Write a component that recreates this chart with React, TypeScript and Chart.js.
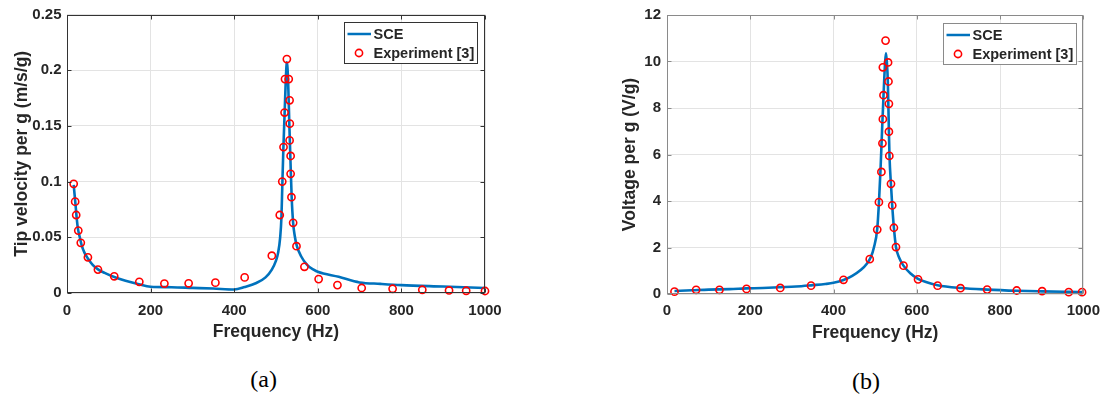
import React, { useEffect, useRef } from 'react';
import { Chart, registerables } from 'chart.js';

Chart.register(...registerables);

// ---------- data ----------
const xTickValues = [0, 200, 400, 600, 800, 1000];
const xTickLabels = ['0', '200', '400', '600', '800', '1000'];

const yTickValuesA = [0, 0.05, 0.1, 0.15, 0.2, 0.25];
const yTickLabelsA = ['0', '0.05', '0.1', '0.15', '0.2', '0.25'];
const yTickValuesB = [0, 2, 4, 6, 8, 10, 12];
const yTickLabelsB = ['0', '2', '4', '6', '8', '10', '12'];

const seriesNames = ['SCE', 'Experiment [3]'];
const xTitle = 'Frequency (Hz)';
const yTitleA = 'Tip velocity per g (m/s/g)';
const yTitleB = 'Voltage per g (V/g)';
const captionA = '(a)';
const captionB = '(b)';

// (a) tip velocity
const sceFreqA = [16, 18, 20, 23, 26, 30, 35, 42, 50, 62, 75, 90, 113, 140, 172, 200, 250, 300, 350, 400, 425, 453, 475, 490, 500, 505, 510, 513, 515, 517.5, 520.5, 523.5, 526, 529, 532, 534.5, 537.5, 541, 545, 550, 560, 575, 590, 600, 650, 700, 750, 800, 900, 1000];
const sceVelA = [0.097, 0.089, 0.081, 0.068, 0.058, 0.051, 0.043, 0.036, 0.031, 0.025, 0.021, 0.018, 0.0143, 0.011, 0.0078, 0.0056, 0.0052, 0.0046, 0.004, 0.0032, 0.0054, 0.009, 0.014, 0.021, 0.029, 0.036, 0.05, 0.068, 0.095, 0.128, 0.16, 0.192, 0.207, 0.19, 0.15, 0.12, 0.086, 0.063, 0.051, 0.042, 0.033, 0.025, 0.021, 0.019, 0.0145, 0.0095, 0.0082, 0.0071, 0.0058, 0.0045];
const expFreqA = [16, 19.5, 22, 27, 33, 50, 74, 113, 173, 233, 291, 355, 425, 490, 509, 515, 518, 520.5, 521.5, 526, 530.5, 532.5, 533, 532.5, 535, 535, 537, 541, 549, 568, 602, 647, 705, 779, 850, 914, 955, 1000];
const expVelA = [0.098, 0.082, 0.07, 0.056, 0.045, 0.032, 0.021, 0.015, 0.01, 0.0085, 0.0087, 0.0093, 0.014, 0.0335, 0.07, 0.1, 0.131, 0.162, 0.192, 0.21, 0.192, 0.173, 0.152, 0.137, 0.123, 0.107, 0.086, 0.063, 0.042, 0.0235, 0.0125, 0.0071, 0.0045, 0.0038, 0.0029, 0.0023, 0.002, 0.0018];

// (b) voltage
const sceFreqB = [18, 60, 100, 150, 190, 230, 270, 310, 350, 380, 400, 424, 445, 466, 480, 490, 497, 505, 509, 513, 516.5, 520, 524, 526, 528, 530.5, 533, 534.5, 538, 541, 545, 550, 558, 568, 585, 603, 622, 650, 705, 769, 840, 901, 965, 1000];
const sceVoltB = [0.13, 0.16, 0.19, 0.21, 0.24, 0.26, 0.29, 0.32, 0.38, 0.43, 0.48, 0.6, 0.78, 1.04, 1.3, 1.6, 2.0, 2.8, 3.9, 5.4, 7.0, 8.5, 10.0, 10.35, 10.0, 9.1, 7.0, 5.9, 4.7, 3.8, 2.85, 2.02, 1.55, 1.22, 0.88, 0.65, 0.52, 0.38, 0.26, 0.19, 0.14, 0.115, 0.095, 0.085];
const expFreqB = [18, 70, 126, 191, 272, 346, 424, 487, 505, 509, 515, 517.5, 518.5, 520, 518.5, 525, 531, 532, 533, 533, 534, 538, 541, 545, 550, 568, 603, 650, 705, 769, 840, 901, 965, 997];
const expVoltB = [0.1, 0.18, 0.18, 0.22, 0.26, 0.36, 0.61, 1.5, 2.77, 3.95, 5.25, 6.48, 7.52, 8.55, 9.75, 10.9, 9.96, 9.14, 8.18, 6.98, 5.94, 4.74, 3.81, 2.85, 2.02, 1.22, 0.63, 0.36, 0.25, 0.19, 0.15, 0.12, 0.08, 0.08];

// ---------- styles ----------
const FONT = '"Liberation Sans", Arial, Helvetica, sans-serif';
const TEXT = '#262626';
const LINE_BLUE = '#0072BD';
const MARK_RED = '#FF0000';
const GRID = '#e3e3e3';

const framePlugin = {
  id: 'frameTicks',
  afterDatasetsDraw(chart: any, _args: any, opts: any) {
    const { ctx, chartArea, scales } = chart;
    const L = Math.round(chartArea.left) + 0.5;
    const R = Math.round(chartArea.right) - 0.5;
    const T = Math.round(chartArea.top) + 0.5;
    const B = Math.round(chartArea.bottom) - 0.5;
    ctx.save();
    ctx.strokeStyle = opts.color || '#333';
    ctx.lineWidth = 1;
    ctx.strokeRect(L, T, R - L, B - T);
    const tl = 4;
    ctx.beginPath();
    scales.x.ticks.forEach((t: any) => {
      const px = Math.round(scales.x.getPixelForValue(t.value)) + 0.5;
      ctx.moveTo(px, B); ctx.lineTo(px, B - tl);
      ctx.moveTo(px, T); ctx.lineTo(px, T + tl);
    });
    scales.y.ticks.forEach((t: any) => {
      const py = Math.round(scales.y.getPixelForValue(t.value)) + 0.5;
      ctx.moveTo(L, py); ctx.lineTo(L + tl, py);
      ctx.moveTo(R, py); ctx.lineTo(R - tl, py);
    });
    ctx.stroke();
    ctx.restore();
  },
};

const boxLegendPlugin = {
  id: 'boxLegend',
  afterDraw(chart: any, _args: any, opts: any) {
    const { ctx, chartArea } = chart;
    const w = 133;
    const h = 41;
    const x0 = Math.round(chartArea.right - 7.7 - w) + 0.5;
    const y0 = Math.round(chartArea.top + 7.5) + 0.5;
    ctx.save();
    ctx.fillStyle = '#ffffff';
    ctx.fillRect(x0, y0, w, h);
    ctx.strokeStyle = opts.border || '#404040';
    ctx.lineWidth = 1;
    ctx.strokeRect(x0, y0, w, h);
    // line sample
    ctx.strokeStyle = LINE_BLUE;
    ctx.lineWidth = 2.5;
    ctx.beginPath();
    ctx.moveTo(x0 + 3, y0 + 11.5);
    ctx.lineTo(x0 + 26.5, y0 + 11.5);
    ctx.stroke();
    // marker sample
    ctx.strokeStyle = MARK_RED;
    ctx.lineWidth = 1.6;
    ctx.beginPath();
    ctx.arc(x0 + 14.5, y0 + 30.5, 3.6, 0, Math.PI * 2);
    ctx.stroke();
    // texts
    ctx.fillStyle = TEXT;
    ctx.font = `bold 14.5px ${FONT}`;
    ctx.textAlign = 'left';
    ctx.textBaseline = 'middle';
    ctx.fillText(seriesNames[0], x0 + 29, y0 + 12.5);
    ctx.fillText(seriesNames[1], x0 + 29, y0 + 31.5);
    ctx.restore();
  },
};

type Params = {
  sceF: number[];
  sceV: number[];
  expF: number[];
  expV: number[];
  yVals: number[];
  yLabels: string[];
  yTitle: string;
  padding: { left: number; right: number; top: number; bottom: number };
  yWidth: number;
  xHeight: number;
  yTitlePad: number;
  xTitlePad: number;
  xTickPad: number;
  yTickPad: number;
  frameColor: string;
};

function makeConfig(p: Params): any {
  return {
    type: 'scatter',
    data: {
      datasets: [
        {
          label: seriesNames[1],
          data: p.expF.map((f, i) => ({ x: f, y: p.expV[i] })),
          showLine: false,
          pointStyle: 'circle',
          pointRadius: 3.6,
          pointBorderWidth: 1.6,
          pointBorderColor: MARK_RED,
          pointBackgroundColor: 'rgba(0,0,0,0)',
          clip: false,
          order: 0,
        },
        {
          label: seriesNames[0],
          data: p.sceF.map((f, i) => ({ x: f, y: p.sceV[i] })),
          showLine: true,
          borderColor: LINE_BLUE,
          borderWidth: 2.6,
          pointRadius: 0,
          cubicInterpolationMode: 'monotone',
          order: 1,
        },
      ],
    },
    options: {
      responsive: false,
      animation: false,
      devicePixelRatio: 1,
      layout: { padding: p.padding },
      plugins: {
        legend: { display: false },
        tooltip: { enabled: false },
        frameTicks: { color: p.frameColor },
        boxLegend: { border: p.frameColor },
      },
      scales: {
        x: {
          type: 'linear',
          position: 'bottom',
          min: 0,
          max: 1000,
          afterBuildTicks: (s: any) => {
            s.ticks = xTickValues.map((v) => ({ value: v }));
          },
          afterFit: (s: any) => {
            s.height = p.xHeight;
          },
          ticks: {
            callback: (_v: any, i: number) => xTickLabels[i],
            padding: p.xTickPad,
            color: TEXT,
            font: { family: FONT, size: 15, weight: 'bold' },
            maxRotation: 0,
            autoSkip: false,
          },
          grid: { color: GRID, drawTicks: false, lineWidth: 1 },
          border: { display: false },
          title: {
            display: true,
            text: xTitle,
            color: TEXT,
            font: { family: FONT, size: 17.5, weight: 'bold' },
            padding: { top: 0, bottom: p.xTitlePad },
          },
        },
        y: {
          type: 'linear',
          position: 'left',
          min: p.yVals[0],
          max: p.yVals[p.yVals.length - 1],
          afterBuildTicks: (s: any) => {
            s.ticks = p.yVals.map((v) => ({ value: v }));
          },
          afterFit: (s: any) => {
            s.width = p.yWidth;
          },
          ticks: {
            callback: (_v: any, i: number) => p.yLabels[i],
            padding: p.yTickPad,
            color: TEXT,
            font: { family: FONT, size: 15, weight: 'bold' },
            autoSkip: false,
          },
          grid: { color: GRID, drawTicks: false, lineWidth: 1 },
          border: { display: false },
          title: {
            display: true,
            text: p.yTitle,
            color: TEXT,
            font: { family: FONT, size: 17.5, weight: 'bold' },
            padding: { top: p.yTitlePad, bottom: 0 },
          },
        },
      },
    },
    plugins: [framePlugin, boxLegendPlugin],
  };
}

export default function App() {
  const refA = useRef<HTMLCanvasElement>(null);
  const refB = useRef<HTMLCanvasElement>(null);

  useEffect(() => {
    const a = new Chart(
      refA.current as HTMLCanvasElement,
      makeConfig({
        sceF: sceFreqA,
        sceV: sceVelA,
        expF: expFreqA,
        expV: expVelA,
        yVals: yTickValuesA,
        yLabels: yTickLabelsA,
        yTitle: yTitleA,
        padding: { left: 0, right: 60, top: 13, bottom: 0 },
        yWidth: 67,
        xHeight: 59,
        yTitlePad: 11.7,
        xTitlePad: 9.3,
        xTickPad: 8.5,
        yTickPad: 5.5,
        frameColor: '#333333',
      })
    );
    const b = new Chart(
      refB.current as HTMLCanvasElement,
      makeConfig({
        sceF: sceFreqB,
        sceV: sceVoltB,
        expF: expFreqB,
        expV: expVoltB,
        yVals: yTickValuesB,
        yLabels: yTickLabelsB,
        yTitle: yTitleB,
        padding: { left: 0, right: 19, top: 11, bottom: 0 },
        yWidth: 77,
        xHeight: 58,
        yTitlePad: 30.1,
        xTitlePad: 8,
        xTickPad: 8,
        yTickPad: 6,
        frameColor: '#8a8a8a',
      })
    );
    return () => {
      a.destroy();
      b.destroy();
    };
  }, []);

  const captionStyle: React.CSSProperties = {
    position: 'absolute',
    width: 100,
    textAlign: 'center',
    fontFamily: '"Liberation Serif", "Times New Roman", serif',
    fontSize: 24,
    lineHeight: '24px',
    color: '#000',
  };

  return (
    <div
      style={{
        position: 'fixed',
        left: 0,
        top: 0,
        width: 1108,
        height: 402,
        background: '#ffffff',
        overflow: 'hidden',
      }}
    >
      <canvas
        ref={refA}
        width={545}
        height={352}
        style={{ position: 'absolute', left: 0, top: 0, width: 545, height: 352 }}
      />
      <canvas
        ref={refB}
        width={518}
        height={352}
        style={{ position: 'absolute', left: 590, top: 0, width: 518, height: 352 }}
      />
      <div style={{ ...captionStyle, left: 213.7, top: 367 }}>{captionA}</div>
      <div style={{ ...captionStyle, left: 816, top: 368.5 }}>{captionB}</div>
    </div>
  );
}
